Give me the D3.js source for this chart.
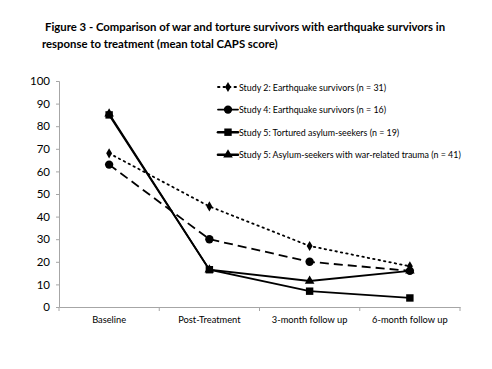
<!DOCTYPE html>
<html><head><meta charset="utf-8">
<script src="https://cdn.jsdelivr.net/npm/d3@7"></script>
<style>body{margin:0;background:#fff}svg{display:block}</style>
</head><body>
<svg id="c" width="492" height="369"></svg>
<script>
const categories = ["Baseline", "Post-Treatment", "3-month follow up", "6-month follow up"];
const study2Quake = [68, 44.5, 27, 18];
const study4Quake = [63, 30, 20, 16];
const study5Tortured = [85, 16.5, 7, 4];
const study5War = [85.5, 16.5, 11.5, 16];
const seriesNames = [
  "Study 2: Earthquake survivors (n = 31)",
  "Study 4: Earthquake survivors (n = 16)",
  "Study 5: Tortured asylum-seekers (n = 19)",
  "Study 5: Asylum-seekers with war-related trauma (n = 41)"
];
const yTicks = [0,10,20,30,40,50,60,70,80,90,100];
const titleLines = ["Figure 3 - Comparison of war and torture survivors with earthquake survivors in",
                    "response to treatment (mean total CAPS score)"];

const series = [
  {name: seriesNames[0], values: study2Quake, symbol: d3.symbolDiamond, size: 30, dash: "1.5,4", width: 1.8},
  {name: seriesNames[1], values: study4Quake, symbol: d3.symbolCircle, size: 55, dash: "9,5", width: 1.8},
  {name: seriesNames[2], values: study5Tortured, symbol: d3.symbolSquare, size: 55, dash: null, width: 1.8},
  {name: seriesNames[3], values: study5War, symbol: d3.symbolTriangle, size: 40, dash: null, width: 1.8}
];

const svg = d3.select("#c");
const font = "Lato, 'Open Sans', 'Liberation Sans', sans-serif";
const m = {l: 59, r: 460, t: 81, b: 307};
const x = d3.scaleBand().domain(categories).range([m.l, m.r]);
const y = d3.scaleLinear().domain([0, 100]).range([m.b, m.t]);

// title
svg.append("g").selectAll("text").data(titleLines).join("text")
  .attr("x", (d,i) => i === 0 ? 45 : 42).attr("y", (d,i) => 31 + i*17)
  .attr("font-family", font).attr("font-weight", "bold").attr("font-size", 11.35)
  .attr("fill", "#000").text(d => d);

// y axis
const yAxis = svg.append("g").attr("transform", `translate(${m.l},0)`)
  .call(d3.axisLeft(y).tickValues(yTicks).tickSize(3).tickPadding(6));
yAxis.selectAll("path,line").attr("stroke", "#a6a6a6");
yAxis.selectAll("text").attr("font-family", font).attr("font-size", 11.5).attr("fill", "#000");

// x axis
const xAxis = svg.append("g").attr("transform", `translate(0,${m.b})`)
  .call(d3.axisBottom(x).tickSize(0).tickPadding(9).tickSizeOuter(0));
xAxis.select("path").attr("stroke", "#a6a6a6");
xAxis.selectAll("text").attr("font-family", font).attr("font-size", 9.3).attr("fill", "#000");
const bounds = [m.l, ...categories.map(c => x(c) + x.bandwidth())];
xAxis.selectAll("line.bnd").data(bounds).join("line").attr("class", "bnd")
  .attr("x1", d => d).attr("x2", d => d).attr("y1", 0).attr("y2", 4).attr("stroke", "#a6a6a6");

const cx = c => x(c) + x.bandwidth()/2;
const line = d3.line().x((d,i) => cx(categories[i])).y(d => y(d));

const g = svg.append("g");
[0, 1, 3, 2].map(i => series[i]).forEach(s => {
  g.append("path").datum(s.values).attr("d", line).attr("fill", "none")
    .attr("stroke", "#000").attr("stroke-width", s.width)
    .attr("stroke-dasharray", s.dash).attr("stroke-linecap", s.dash && s.dash.startsWith("1.5") ? "round" : "butt");
  g.selectAll(null).data(s.values).join("path")
    .attr("transform", (d,i) => `translate(${cx(categories[i])},${y(d)})`)
    .attr("d", d3.symbol().type(s.symbol).size(s.size)).attr("fill", "#000");
});

// legend
const lg = svg.append("g").attr("transform", "translate(218,87)");
series.forEach((s, i) => {
  const row = lg.append("g").attr("transform", `translate(0,${i*22.6})`);
  row.append("line").attr("x1", 0).attr("x2", 20).attr("y1", 0).attr("y2", 0)
    .attr("stroke", "#000").attr("stroke-width", s.dash ? 1.8 : 2.6)
    .attr("stroke-dasharray", s.dash ? (s.dash.startsWith("1.5") ? "1.5,4" : null) : null)
    .attr("stroke-linecap", "round");
  row.append("path").attr("transform", "translate(10,0)")
    .attr("d", d3.symbol().type(s.symbol).size(s.size)).attr("fill", "#000");
  row.append("text").attr("x", 21).attr("y", 3.5)
    .attr("font-family", font).attr("font-size", 8.85).attr("fill", "#000").text(s.name);
});
</script>
</body></html>
